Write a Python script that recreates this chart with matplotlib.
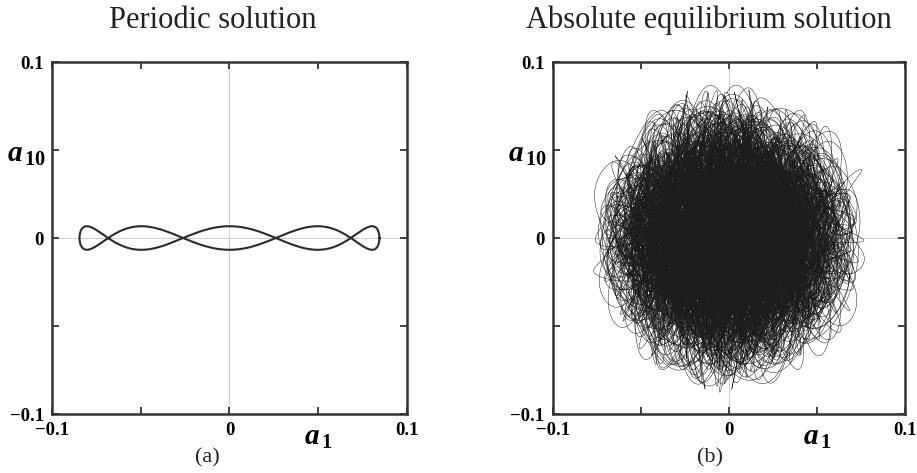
import numpy as np
import matplotlib
matplotlib.use('Agg')
import matplotlib.pyplot as plt
import matplotlib.transforms as mtransforms

plt.rcParams['font.family'] = ['Liberation Serif', 'DejaVu Serif']
plt.rcParams['mathtext.fontset'] = 'custom'
plt.rcParams['mathtext.rm'] = 'Liberation Serif'
plt.rcParams['mathtext.bf'] = 'Liberation Serif:bold'
plt.rcParams['mathtext.it'] = 'Liberation Serif:italic'
plt.rcParams['mathtext.bfit'] = 'Liberation Serif:italic:bold'
plt.rcParams['agg.path.chunksize'] = 20000

# Panel text
titles = ['Periodic solution', 'Absolute equilibrium solution']
panel_tags = ['(a)', '(b)']

# Axis ticks (labels only at the ends and centre)
tick_values = [-0.1, -0.05, 0, 0.05, 0.1]
tick_labels = ['\u22120.1', '', '0', '', '0.1']

# (a) periodic orbit: a1 = A cos(t), a10 = B sin(k t)
periodic_amp_a1 = 0.0845
periodic_amp_a10 = 0.0067
periodic_ratio = 5

# (b) long trajectory: amplitudes / frequencies of its modes
# (frequencies kept incommensurate so the orbit never closes)
cloud_amp_a1 = [0.033, 0.020, 0.014, 0.010]
cloud_freq_a1 = [0.3719, 1.1347, 2.9311, 0.7713]
cloud_amp_a10 = [0.032, 0.024, 0.018, 0.015]
cloud_freq_a10 = [2.7183, 3.3737, 0.5303, 1.6180]
cloud_squeeze = 0.52   # how much a10 shrinks at the a1 extremes
cloud_duration = 3000

# periodic curve
t = np.linspace(0, 2 * np.pi, 2000)
per_x = periodic_amp_a1 * np.cos(t)
per_y = periodic_amp_a10 * np.sin(periodic_ratio * t)

# long trajectory
tt = np.arange(0, cloud_duration, 0.01)
cl_x = sum(a * np.cos(w * tt + 0.7 * i) for i, (a, w) in enumerate(zip(cloud_amp_a1, cloud_freq_a1)))
cl_y = sum(b * np.sin(v * tt + 0.4 * i) for i, (b, v) in enumerate(zip(cloud_amp_a10, cloud_freq_a10)))
x_max = sum(cloud_amp_a1)
cl_y = cl_y * (1 - cloud_squeeze * (cl_x / x_max) ** 2)

fig = plt.figure(figsize=(9.17, 4.73), dpi=100)
ax1 = fig.add_axes([0.0567, 0.1247, 0.3871, 0.7442])
ax2 = fig.add_axes([0.6030, 0.1247, 0.3840, 0.7442])

ax1.plot(per_x, per_y, color='#2b2b2b', lw=1.5, zorder=3)
ax2.plot(cl_x, cl_y, color='#1c1c1c', lw=0.35, zorder=3)

for ax in (ax1, ax2):
    ax.set_xlim(-0.1, 0.1)
    ax.set_ylim(-0.1, 0.1)
    ax.axhline(0, color='#d0d0d0', lw=0.8, zorder=1)
    ax.axvline(0, color='#d0d0d0', lw=0.8, zorder=1)
    ax.set_xticks(tick_values)
    ax.set_yticks(tick_values)
    ax.set_xticklabels(tick_labels, fontweight='bold', fontsize=13.5)
    ax.set_yticklabels(tick_labels, fontweight='bold', fontsize=13.5)
    ax.tick_params(direction='in', length=5, width=1.3, color='#333333',
                   top=True, right=True, pad=6)
    for sp in ax.spines.values():
        sp.set_linewidth(1.8)
        sp.set_color('#333333')
    trans_y = mtransforms.blended_transform_factory(ax.transAxes, ax.transData)
    ax.text(-0.128, 0.047, r'$\mathbfit{a}_{\,\mathbf{10}}$', transform=trans_y,
            fontsize=21, ha='left', va='center')
    trans_x = mtransforms.blended_transform_factory(ax.transData, ax.transAxes)
    ax.text(0.05, -0.068, r'$\mathbfit{a}_{\,\mathbf{1}}$', transform=trans_x,
            fontsize=21, ha='center', va='center')

fig.text(0.2317, 0.9408, titles[0], fontsize=22, ha='center', va='baseline', color='#222222')
fig.text(0.7730, 0.9408, titles[1], fontsize=22, ha='center', va='baseline', color='#222222')
fig.text(0.2263, 0.0317, panel_tags[0], fontsize=16, ha='center', va='center', color='#222222')
fig.text(0.7743, 0.0317, panel_tags[1], fontsize=16, ha='center', va='center', color='#222222')

fig.savefig('out.png', dpi=100)
